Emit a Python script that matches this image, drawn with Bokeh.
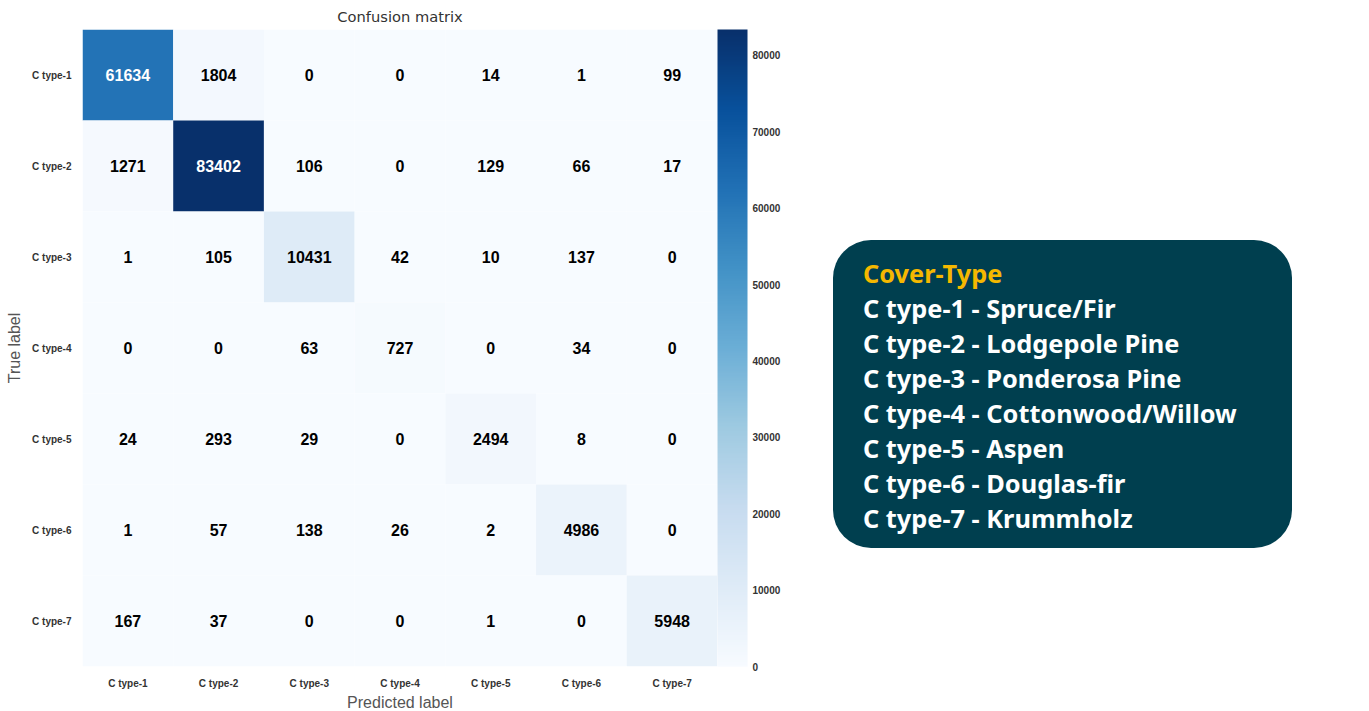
from bokeh.plotting import figure
from bokeh.models import ColumnDataSource, LinearColorMapper, ColorBar, FixedTicker, Div
from bokeh.layouts import row
from bokeh.palettes import Blues256
from bokeh.embed import file_html
from bokeh.resources import INLINE

# ─── data ───────────────────────────────────────────────────────────────────
labels = ["C type-1", "C type-2", "C type-3", "C type-4", "C type-5", "C type-6", "C type-7"]
matrix = [
    [61634, 1804, 0, 0, 14, 1, 99],
    [1271, 83402, 106, 0, 129, 66, 17],
    [1, 105, 10431, 42, 10, 137, 0],
    [0, 0, 63, 727, 0, 34, 0],
    [24, 293, 29, 0, 2494, 8, 0],
    [1, 57, 138, 26, 2, 4986, 0],
    [167, 37, 0, 0, 1, 0, 5948],
]
legend_names = ["Spruce/Fir", "Lodgepole Pine", "Ponderosa Pine", "Cottonwood/Willow",
                "Aspen", "Douglas-fir", "Krummholz"]
cbar_ticks = [0, 10000, 20000, 30000, 40000, 50000, 60000, 70000, 80000]

vmax = max(max(r) for r in matrix)
xs, ys, vals, txt, tcol = [], [], [], [], []
for i, true_lab in enumerate(labels):
    for j, pred_lab in enumerate(labels):
        v = matrix[i][j]
        xs.append(pred_lab); ys.append(true_lab); vals.append(v)
        txt.append(str(v)); tcol.append("white" if v > vmax / 2 else "black")
src = ColumnDataSource(dict(x=xs, y=ys, v=vals, t=txt, c=tcol))

mapper = LinearColorMapper(palette=Blues256[::-1], low=0, high=vmax)

p = figure(x_range=labels, y_range=labels[::-1], frame_width=635, frame_height=637,
           output_backend="svg", toolbar_location=None,
           min_border_left=82, min_border_top=0, min_border_bottom=39, min_border_right=0,
           title="Confusion matrix")
p.title.align = "center"
p.title.text_font = "DejaVu Sans"
p.title.text_font_style = "normal"
p.title.text_font_size = "11pt"
p.title.text_color = "#333333"
p.outline_line_color = None
p.grid.grid_line_color = None

p.rect("x", "y", 1, 1, source=src, fill_color={"field": "v", "transform": mapper},
       line_color=None)
p.text("x", "y", text="t", source=src, text_color="c", text_align="center",
       text_baseline="middle", text_font_size="12pt", text_font_style="bold")

for ax in (p.xaxis, p.yaxis):
    ax.axis_line_color = None
    ax.major_tick_line_color = None
    ax.minor_tick_line_color = None
    ax.major_label_text_font_style = "bold"
    ax.major_label_text_font_size = "7.5pt"
    ax.major_label_text_color = "#333333"
    ax.axis_label_text_font_style = "normal"
    ax.axis_label_text_font_size = "12pt"
    ax.axis_label_text_color = "#555555"
p.xaxis.axis_label = "Predicted label"
p.yaxis.axis_label = "True label"
p.xaxis.axis_label_standoff = 2
p.yaxis.axis_label_standoff = 6

cb = ColorBar(color_mapper=mapper, width=30, padding=0, margin=53,
              ticker=FixedTicker(ticks=cbar_ticks), major_tick_line_color=None,
              bar_line_color=None, major_label_text_font_size="7.5pt",
              major_label_text_font_style="bold", major_label_text_color="#333333")
p.add_layout(cb, "right")

lines = "".join(f"<div>{labels[k]} - {legend_names[k]}</div>" for k in range(len(labels)))
box = Div(text=f"""<div style="background:#003f4f;border-radius:38px;width:459px;height:308px;
box-sizing:border-box;padding:16px 30px;font-family:'Noto Sans';font-weight:bold;
font-size:19pt;line-height:35px;color:white;">
<div style="color:#f5b800">Cover-Type</div>{lines}</div>""",
          width=459, height=308, margin=(240, 0, 0, 50))

layout = row(p, box)
open("out.html", "w").write(file_html(layout, INLINE))
